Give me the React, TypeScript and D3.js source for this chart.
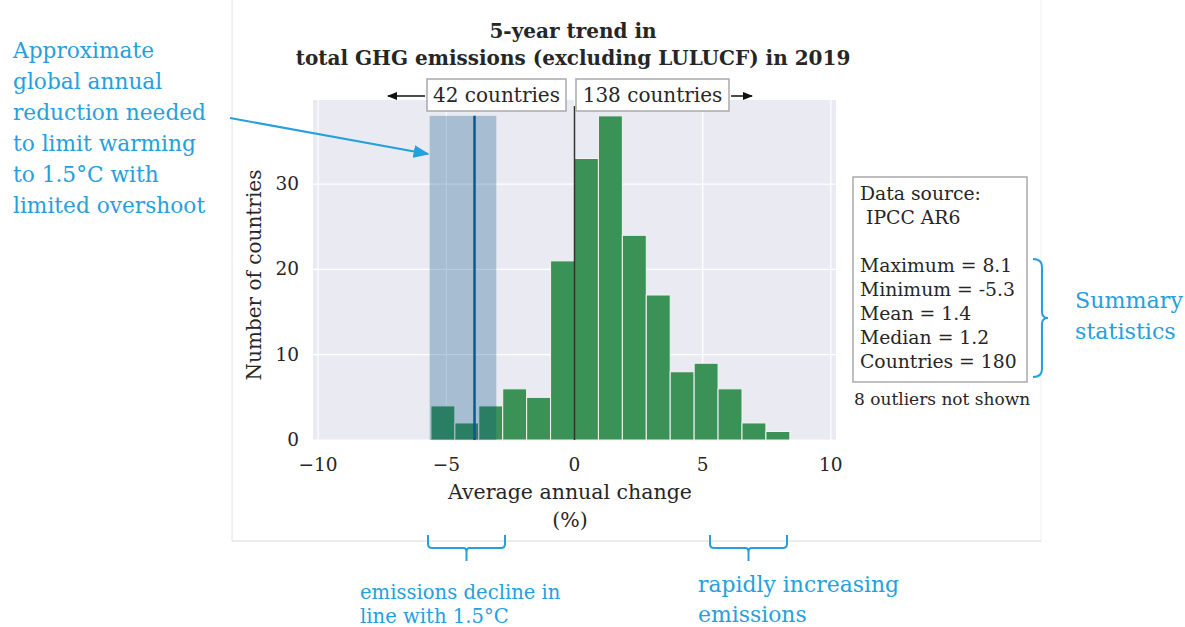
import React from "react";
import * as d3 from "d3";

const binStart = -5.6;
const binWidth = 14 / 15;
const counts = [4, 2, 4, 6, 5, 21, 33, 38, 24, 17, 8, 9, 6, 2, 1];
const xTicks = [-10, -5, 0, 5, 10];
const yTicks = [0, 10, 20, 30];
const band = [-5.65, -3.05];
const bandLine = -3.9;
const bandTop = 38;
const titleLines = ["5-year trend in", "total GHG emissions (excluding LULUCF) in 2019"];
const statsLines = ["Data source:", " IPCC AR6", "", "Maximum = 8.1", "Minimum = -5.3", "Mean = 1.4", "Median = 1.2", "Countries = 180"];
const leftNote = ["Approximate", "global annual", "reduction needed", "to limit warming", "to 1.5°C with", "limited overshoot"];
const leftCountLabel = "42 countries";
const rightCountLabel = "138 countries";

const SERIF = "'DejaVu Serif', serif";
const BLUE = "#26a0dc";
const TXT = "#262626";

export default function App() {
  const left = 313, right = 836, top = 100, bottom = 440;
  const x = d3.scaleLinear().domain([-10.2, 10.2]).range([left, right]);
  const y = d3.scaleLinear().domain([0, 39.86]).range([bottom, top]);
  const bins = counts.map((c, i) => ({ x0: binStart + i * binWidth, x1: binStart + (i + 1) * binWidth, c }));

  const braceV = (x0: number, y0: number, y1: number, w: number) => {
    const ym = (y0 + y1) / 2;
    return `M${x0},${y0} Q${x0 + w},${y0} ${x0 + w},${y0 + 8} L${x0 + w},${ym - 6} Q${x0 + w},${ym} ${x0 + w + 6},${ym} Q${x0 + w},${ym} ${x0 + w},${ym + 6} L${x0 + w},${y1 - 8} Q${x0 + w},${y1} ${x0},${y1}`;
  };
  const braceH = (x0: number, x1: number, y0: number) => {
    const xm = (x0 + x1) / 2;
    return `M${x0},${y0} L${x0},${y0 + 9} Q${x0},${y0 + 13} ${x0 + 4},${y0 + 13} L${xm - 3},${y0 + 13} Q${xm},${y0 + 13} ${xm},${y0 + 17} L${xm},${y0 + 26} M${xm},${y0 + 17} Q${xm},${y0 + 13} ${xm + 3},${y0 + 13} L${x1 - 4},${y0 + 13} Q${x1},${y0 + 13} ${x1},${y0 + 9} L${x1},${y0}`;
  };

  return (
    <svg width={1185} height={627} style={{ position: "absolute", left: 0, top: 0, background: "#fff" }} fontFamily={SERIF}>
      <defs>
        <marker id="ah" viewBox="0 0 10 10" refX="9" refY="5" markerWidth="8" markerHeight="8" orient="auto">
          <path d="M0,1 L10,5 L0,9 z" fill={BLUE} />
        </marker>
        <marker id="ahk" viewBox="0 0 10 10" refX="9" refY="5" markerWidth="7" markerHeight="7" orient="auto">
          <path d="M0,1 L10,5 L0,9 z" fill="#111" />
        </marker>
      </defs>
      {/* figure frame */}
      <line x1={232} y1={0} x2={232} y2={541} stroke="#e4e4e4" />
      <line x1={1041} y1={0} x2={1041} y2={541} stroke="#f0f0f0" />
      <line x1={232} y1={541} x2={1041} y2={541} stroke="#d8d8d8" />

      {/* plot background */}
      <rect x={left} y={top} width={right - left} height={bottom - top} fill="#eaeaf2" />
      {xTicks.map((t) => (
        <line key={"gx" + t} x1={x(t)} x2={x(t)} y1={top} y2={bottom} stroke="#fff" strokeWidth={1.2} />
      ))}
      {yTicks.map((t) => (
        <line key={"gy" + t} x1={left} x2={right} y1={y(t)} y2={y(t)} stroke="#fff" strokeWidth={1.2} />
      ))}
      {bins.map((b, i) => (
        <rect key={"b" + i} x={x(b.x0)} y={y(b.c)} width={x(b.x1) - x(b.x0)} height={y(0) - y(b.c)} fill="#3a9257" stroke="#f4f4f4" strokeWidth={1} />
      ))}
      <rect x={x(band[0])} y={y(bandTop)} width={x(band[1]) - x(band[0])} height={y(0) - y(bandTop)} fill="rgb(0,80,132)" fillOpacity={0.29} />
      <line x1={x(bandLine)} x2={x(bandLine)} y1={y(bandTop)} y2={bottom} stroke="#0b5a8a" strokeWidth={2.5} />
      <line x1={x(0)} x2={x(0)} y1={106} y2={bottom} stroke="#333" strokeWidth={1.5} />

      {/* ticks */}
      {xTicks.map((t) => (
        <text key={"tx" + t} x={x(t)} y={471} textAnchor="middle" fontSize={18.5} fill={TXT}>{d3.format("")(t).replace("-", "−")}</text>
      ))}
      {yTicks.map((t) => (
        <text key={"ty" + t} x={299} y={y(t) + 6} textAnchor="end" fontSize={18.5} fill={TXT}>{t}</text>
      ))}
      <text transform="translate(261,275) rotate(-90)" textAnchor="middle" fontSize={20} fill={TXT}>Number of countries</text>
      <text x={570} y={499} textAnchor="middle" fontSize={20.5} fill={TXT}>Average annual change</text>
      <text x={570} y={527} textAnchor="middle" fontSize={20.5} fill={TXT}>(%)</text>

      {/* title */}
      {titleLines.map((l, i) => (
        <text key={"t" + i} x={573} y={38 + i * 27} textAnchor="middle" fontSize={20} fontWeight="bold" fill={TXT}>{l}</text>
      ))}

      {/* count boxes */}
      <rect x={427} y={79} width={139} height={32} fill="#fff" stroke="#aaa" strokeWidth={1.5} />
      <text x={496.5} y={102} textAnchor="middle" fontSize={20} fill={TXT}>{leftCountLabel}</text>
      <rect x={576} y={79} width={153} height={32} fill="#fff" stroke="#aaa" strokeWidth={1.5} />
      <text x={652.5} y={102} textAnchor="middle" fontSize={20} fill={TXT}>{rightCountLabel}</text>
      <line x1={425} y1={96} x2={388} y2={96} stroke="#111" strokeWidth={1.5} markerEnd="url(#ahk)" />
      <line x1={731} y1={96} x2={752} y2={96} stroke="#111" strokeWidth={1.5} markerEnd="url(#ahk)" />

      {/* stats box */}
      <rect x={853} y={177} width={174} height={205} fill="#fff" stroke="#aaa" strokeWidth={1.5} />
      {statsLines.map((l, i) => (
        <text key={"s" + i} x={860} y={200 + i * 24} fontSize={18.8} fill={TXT} style={{ whiteSpace: "pre" }}>{l}</text>
      ))}
      <text x={854} y={405} fontSize={17} fill={TXT}>8 outliers not shown</text>

      {/* annotations */}
      <path d={braceV(1033, 259, 377, 9)} fill="none" stroke={BLUE} strokeWidth={2} />
      <text x={1075} y={308} fontSize={22.2} fill={BLUE}>Summary</text>
      <text x={1075} y={339} fontSize={22.2} fill={BLUE}>statistics</text>

      {leftNote.map((l, i) => (
        <text key={"n" + i} x={13} y={58 + i * 31} fontSize={21.7} fill={BLUE}>{l}</text>
      ))}
      <line x1={230} y1={118} x2={428} y2={154} stroke={BLUE} strokeWidth={2} markerEnd="url(#ah)" />

      <path d={braceH(428, 505, 535)} fill="none" stroke={BLUE} strokeWidth={2} />
      <path d={braceH(710, 787, 535)} fill="none" stroke={BLUE} strokeWidth={2} />
      <text x={360} y={599} fontSize={19.6} fill={BLUE}>emissions decline in</text>
      <text x={360} y={623} fontSize={19.6} fill={BLUE}>line with 1.5°C</text>
      <text x={698} y={592} fontSize={21.9} fill={BLUE}>rapidly increasing</text>
      <text x={698} y={622} fontSize={21.9} fill={BLUE}>emissions</text>
    </svg>
  );
}
